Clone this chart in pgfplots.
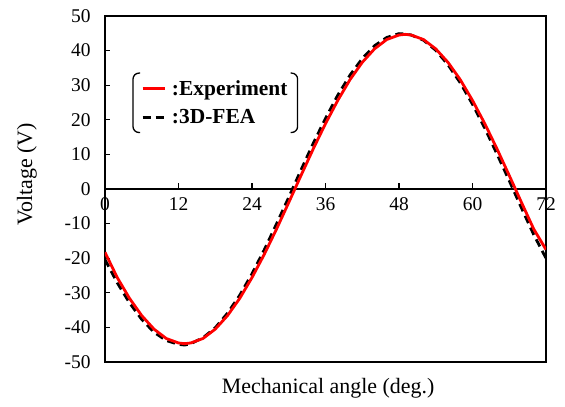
\documentclass[border=0pt]{standalone}
\usepackage{fontspec}
\setmainfont{Liberation Serif}
\usepackage{pgfplots}
\pgfplotsset{compat=1.18}
\begin{document}
\begin{tikzpicture}
\useasboundingbox (-105bp,-45bp) rectangle (460bp,362bp);
\pgfplotsset{common/.style={scale only axis, width=441bp, height=346bp,
  xmin=0, xmax=72, ymin=-50, ymax=50, at={(0,0)}, anchor=south west}}
% zero line with the x ticks
\begin{axis}[common,
  axis x line=middle, axis y line=none,
  axis line style={line width=1.3bp, -},
  xtick={0,12,24,36,48,60,72},
  xticklabels={0,12,24,36,48,60,72},
  hide obscured x ticks=false,
  xtick align=inside, major tick length=6bp,
  xtick style={line width=1.2bp, black},
  xticklabel style={font=\fontsize{19.5}{22}\selectfont, yshift=-5bp},
  ytick=\empty]
\end{axis}
\begin{axis}[common,
  axis line style={line width=1.3bp},
  xtick=\empty,
  ytick={-50,-40,-30,-20,-10,0,10,20,30,40,50},
  yticklabels={-50,-40,-30,-20,-10,0,10,20,30,40,50},
  ytick pos=left, tick align=inside, major tick length=5bp,
  ytick style={line width=1.2bp, black},
  yticklabel style={font=\fontsize{19.5}{22}\selectfont, xshift=-11bp},
  xlabel={Mechanical angle (deg.)}, ylabel={Voltage (V)},
  label style={font=\fontsize{22}{26}\selectfont},
  ylabel style={at={(axis description cs:-0.177,0.543)}, anchor=center},
  xlabel style={at={(axis description cs:0.506,-0.075)}, anchor=center},
  reverse legend,
  legend cell align=left,
  legend image code/.code={\draw[#1] (0bp,0bp) -- (22bp,0bp); \path (26bp,0bp);},
  legend style={at={(axis description cs:0.0635,0.835)}, anchor=north west,
    draw=none, fill=none, font=\fontsize{21.5}{25}\selectfont\bfseries,
    inner xsep=8bp, inner ysep=5bp, row sep=9bp, name=leg},
]
\addplot[black, line width=2.8bp, dash pattern=on 8bp off 5bp] coordinates {
(0,-20.4) (2,-27.1) (4,-32.9) (6,-37.7) (8,-41.4) (10,-43.8) (12,-44.9)
(13,-45.1) (14,-44.7) (16,-43.0) (18,-40.1) (20,-35.9) (22,-30.7) (24,-24.5)
(26,-17.6) (28,-10.1) (30,-2.4) (32,5.5) (34,13.2) (36,20.4) (38,27.1)
(40,32.9) (42,37.7) (44,41.4) (46,43.8) (48,44.9) (49,44.8) (50,44.5) (52,43.0)
(54,40.1) (56,35.9) (58,30.7) (60,24.5) (62,17.6) (64,10.1) (66,2.4)
(68,-5.5) (70,-13.2) (72,-20.0)};
\addlegendentry{:3D-FEA}
\addplot[red, line width=2.8bp] coordinates {
(0,-18.3) (2,-25.6) (4,-31.6) (6,-36.6) (8,-40.5) (10,-43.2) (12,-44.5)
(13,-44.7) (14,-44.5) (16,-43.2) (18,-40.5) (20,-36.6) (22,-31.6) (24,-25.6)
(26,-18.9) (28,-11.6) (30,-3.9) (32,3.9) (34,11.6) (36,18.9) (38,25.6)
(40,31.6) (42,36.6) (44,40.5) (46,43.2) (48,44.5) (49,44.7) (50,44.5) (52,43.2)
(54,40.5) (56,36.6) (58,31.6) (60,25.6) (62,18.9) (64,11.6) (66,3.9)
(68,-3.9) (70,-11.6) (72,-17.5)};
\addlegendentry{:Experiment}
\end{axis}
\draw[line width=1.3bp, rounded corners=6bp]
  ([xshift=7bp]leg.north west) -- (leg.north west) -- (leg.south west) -- ([xshift=7bp]leg.south west);
\draw[line width=1.3bp, rounded corners=6bp]
  ([xshift=-7bp]leg.north east) -- (leg.north east) -- (leg.south east) -- ([xshift=-7bp]leg.south east);
\end{tikzpicture}
\end{document}
